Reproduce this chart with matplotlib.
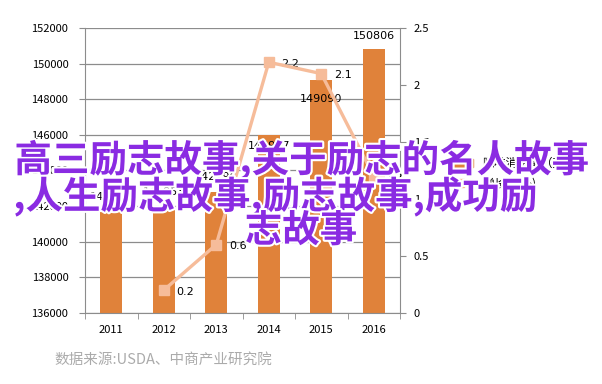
"""
Grafico de consumo de cafe (barras) con tasa de crecimiento (linea)
en eje secundario, con el texto superpuesto de la imagen original.
"""

import matplotlib
matplotlib.use("Agg")
import matplotlib.pyplot as plt
import matplotlib.patheffects as path_effects
from matplotlib.lines import Line2D
from matplotlib.patches import Patch

plt.rcParams["font.family"] = ["Noto Sans CJK SC", "DejaVu Sans"]

# Datos
ANIOS = ["2011", "2012", "2013", "2014", "2015", "2016"]
CONSUMO = [141663, 141953, 142796, 145987, 149090, 150806]
ANIOS_CRECIMIENTO = ["2012", "2013", "2014", "2015", "2016"]
CRECIMIENTO = [0.2, 0.6, 2.2, 2.1, 1.2]

ETIQUETA_BARRAS = "咖啡消费量（万包）"
ETIQUETA_LINEA = "增长率(%)"
FUENTE = "数据来源:USDA、中商产业研究院"
TEXTO_LINEA_1 = "高三励志故事,关于励志的名人故事"
TEXTO_LINEA_2 = ",人生励志故事,励志故事,成功励"
TEXTO_LINEA_3 = "志故事"

COLOR_BARRAS = "#E0823A"
COLOR_LINEA = "#F6BC9A"
COLOR_GRILLA = "#8C8C8C"
COLOR_TEXTO = "#8A2BE2"

figura = plt.figure(figsize=(6.02, 3.84), dpi=100)
ejes = figura.add_axes([0.1412, 0.185, 0.5233, 0.742])

posiciones = list(range(len(ANIOS)))
ejes.bar(posiciones, CONSUMO, width=0.42, color=COLOR_BARRAS, zorder=2)
ejes.set_ylim(136000, 152000)
ejes.set_xlim(-0.5, len(ANIOS) - 0.5)
ejes.set_yticks(range(136000, 152001, 2000))
ejes.set_xticks(posiciones)
ejes.set_xticklabels(ANIOS)
ejes.set_xticks([p + 0.5 for p in range(-1, len(ANIOS))], minor=True)
ejes.tick_params(axis="x", which="major", length=0, labelsize=8, pad=9)
ejes.tick_params(axis="x", which="minor", length=4, color=COLOR_GRILLA)
ejes.tick_params(axis="y", length=4, color=COLOR_GRILLA, labelsize=8, pad=8)
ejes.grid(True, axis="y", color=COLOR_GRILLA, linewidth=0.9, zorder=0)
ejes.set_axisbelow(True)
for lado in ["top", "right"]:
    ejes.spines[lado].set_visible(False)
for lado in ["left", "bottom"]:
    ejes.spines[lado].set_color(COLOR_GRILLA)

# Etiquetas de las barras (algunas quedan dentro de la barra, como en la original)
desplazamientos = [11, 11, 11, -8, -14, 9.5]
for x, valor, dy in zip(posiciones, CONSUMO, desplazamientos):
    ejes.annotate(str(valor), (x, valor), xytext=(0, dy), textcoords="offset points",
                  ha="center", va="center", fontsize=8, family="DejaVu Sans", zorder=5)

# Eje secundario con la tasa de crecimiento
ejes_pct = ejes.twinx()
x_linea = [ANIOS.index(a) for a in ANIOS_CRECIMIENTO]
ejes_pct.plot(x_linea, CRECIMIENTO, "s-", color=COLOR_LINEA, linewidth=2.4, markersize=7, zorder=4)
ejes_pct.set_ylim(0, 2.5)
ejes_pct.set_yticks([0, 0.5, 1, 1.5, 2, 2.5])
ejes_pct.set_yticklabels(["0", "0.5", "1", "1.5", "2", "2.5"])
ejes_pct.tick_params(axis="y", length=4, color=COLOR_GRILLA, labelsize=8, pad=6)
for lado in ["top", "left", "bottom"]:
    ejes_pct.spines[lado].set_visible(False)
ejes_pct.spines["right"].set_color(COLOR_GRILLA)
for x, valor in zip(x_linea, CRECIMIENTO):
    ejes_pct.annotate(str(valor), (x, valor), xytext=(9, -1), textcoords="offset points",
                      ha="left", va="center", fontsize=8, family="DejaVu Sans")

# Leyenda a la derecha del grafico
manejadores = [Patch(color=COLOR_BARRAS), Line2D([], [], color=COLOR_LINEA, marker="s", linewidth=2.4, markersize=6)]
ejes_pct.legend(manejadores, [ETIQUETA_BARRAS, ETIQUETA_LINEA], loc="center left",
                bbox_to_anchor=(0.725, 0.548), bbox_transform=figura.transFigure,
                frameon=False, fontsize=8.5, handlelength=2.2, labelspacing=0.6)

figura.text(0.272, 0.062, FUENTE, ha="center", va="center", fontsize=10.5, color="#ABABAB")

# Texto superpuesto
contorno = [path_effects.withStroke(linewidth=3, foreground="white")]
estilo = dict(fontsize=27, fontweight="bold", color=COLOR_TEXTO, va="center", path_effects=contorno, zorder=10)
figura.text(0.024, 0.583, TEXTO_LINEA_1, ha="left", **estilo)
figura.text(0.022, 0.488, TEXTO_LINEA_2, ha="left", **estilo)
figura.text(0.5, 0.4, TEXTO_LINEA_3, ha="center", **estilo)

figura.savefig("out.png", dpi=100)
